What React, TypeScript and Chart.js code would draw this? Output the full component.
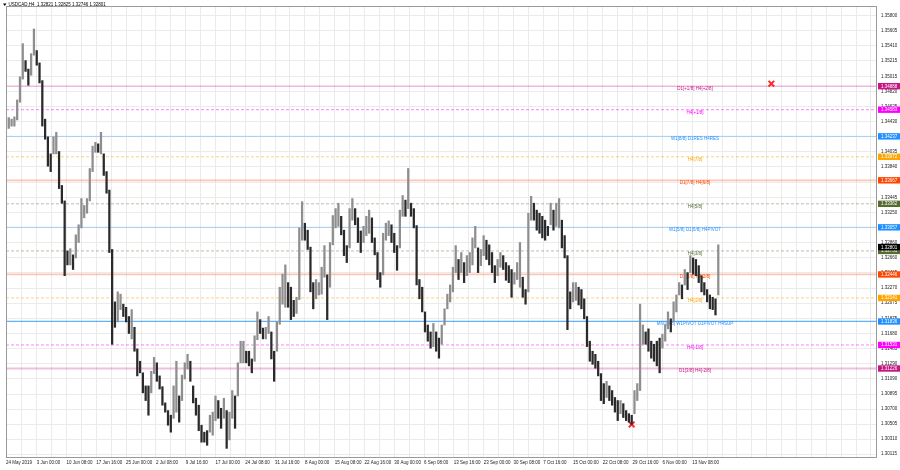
import React, { useEffect, useRef } from 'react';
import { Chart, registerables } from 'chart.js';

Chart.register(...registerables);

// ---- header ----
const titleText = 'USDCAD,H4  1.32821 1.32825 1.32746 1.32801';

// ---- price bars (every 3rd H4 bar), high / low ----
const barHighs = [
  1.3449, 1.3448, 1.3446, 1.3449, 1.3471, 1.3501, 1.3544, 1.3522, 1.3511, 1.3531,
  1.3563, 1.3535, 1.3519, 1.3496, 1.3446, 1.3423, 1.3401, 1.3423, 1.3429, 1.3404,
  1.3360, 1.3340, 1.3275, 1.3278, 1.3270, 1.3296, 1.3309, 1.3343, 1.3334, 1.3343,
  1.3382, 1.3411, 1.3416, 1.3414, 1.3429, 1.3401, 1.3378, 1.3354, 1.3277, 1.3209,
  1.3222, 1.3219, 1.3206, 1.3202, 1.3190, 1.3199, 1.3176, 1.3148, 1.3132, 1.3117,
  1.3100, 1.3100, 1.3119, 1.3137, 1.3130, 1.3113, 1.3099, 1.3078, 1.3068, 1.3062,
  1.3100, 1.3132, 1.3087, 1.3114, 1.3130, 1.3141, 1.3132, 1.3100, 1.3084, 1.3075,
  1.3049, 1.3040, 1.3042, 1.3062, 1.3066, 1.3087, 1.3081, 1.3071, 1.3084, 1.3068,
  1.3066, 1.3094, 1.3087, 1.3130, 1.3158, 1.3158, 1.3145, 1.3145, 1.3135, 1.3165,
  1.3196, 1.3186, 1.3175, 1.3176, 1.3190, 1.3170, 1.3145, 1.3183, 1.3228, 1.3245,
  1.3257, 1.3234, 1.3228, 1.3211, 1.3215, 1.3305, 1.3339, 1.3311, 1.3302, 1.3280,
  1.3234, 1.3238, 1.3234, 1.3254, 1.3282, 1.3244, 1.3286, 1.3321, 1.3330, 1.3337,
  1.3320, 1.3302, 1.3282, 1.3330, 1.3343, 1.3330, 1.3318, 1.3301, 1.3307, 1.3320,
  1.3328, 1.3318, 1.3292, 1.3273, 1.3247, 1.3298, 1.3311, 1.3314, 1.3309, 1.3298,
  1.3282, 1.3328, 1.3347, 1.3341, 1.3382, 1.3337, 1.3330, 1.3308, 1.3238, 1.3228,
  1.3196, 1.3179, 1.3170, 1.3181, 1.3170, 1.3162, 1.3179, 1.3200, 1.3219, 1.3231,
  1.3254, 1.3282, 1.3264, 1.3273, 1.3260, 1.3269, 1.3273, 1.3292, 1.3307, 1.3279,
  1.3277, 1.3295, 1.3289, 1.3283, 1.3273, 1.3256, 1.3264, 1.3273, 1.3269, 1.3260,
  1.3256, 1.3251, 1.3247, 1.3260, 1.3286, 1.3241, 1.3225, 1.3324, 1.3346, 1.3337,
  1.3328, 1.3324, 1.3320, 1.3315, 1.3307, 1.3337, 1.3328, 1.3337, 1.3343, 1.3315,
  1.3295, 1.3269, 1.3222, 1.3234, 1.3234, 1.3228, 1.3225, 1.3213, 1.3190, 1.3158,
  1.3145, 1.3141, 1.3132, 1.3116, 1.3103, 1.3106, 1.3100, 1.3094, 1.3085, 1.3081,
  1.3081, 1.3077, 1.3068, 1.3064, 1.3062, 1.3094, 1.3103, 1.3206, 1.3179, 1.3170,
  1.3174, 1.3158, 1.3154, 1.3158, 1.3162, 1.3167, 1.3179, 1.3196, 1.3187, 1.3209,
  1.3218, 1.3234, 1.3231, 1.3251, 1.3247, 1.3269, 1.3266, 1.3264, 1.3256, 1.3243,
  1.3234, 1.3225, 1.3218, 1.3215, 1.3213, 1.3283,
];
const barLows = [
  1.3433, 1.3434, 1.3437, 1.3437, 1.3445, 1.3468, 1.3498, 1.3508, 1.3490, 1.3503,
  1.3529, 1.3516, 1.3493, 1.3437, 1.3420, 1.3385, 1.3378, 1.3401, 1.3401, 1.3356,
  1.3337, 1.3243, 1.3257, 1.3257, 1.3251, 1.3266, 1.3286, 1.3305, 1.3318, 1.3324,
  1.3340, 1.3378, 1.3403, 1.3403, 1.3401, 1.3373, 1.3350, 1.3273, 1.3154, 1.3176,
  1.3183, 1.3199, 1.3190, 1.3183, 1.3168, 1.3161, 1.3145, 1.3113, 1.3117, 1.3091,
  1.3081, 1.3062, 1.3091, 1.3116, 1.3106, 1.3096, 1.3075, 1.3066, 1.3049, 1.3040,
  1.3058, 1.3066, 1.3053, 1.3081, 1.3109, 1.3122, 1.3106, 1.3078, 1.3062, 1.3042,
  1.3027, 1.3027, 1.3023, 1.3040, 1.3036, 1.3055, 1.3058, 1.3045, 1.3058, 1.3019,
  1.3030, 1.3058, 1.3045, 1.3087, 1.3130, 1.3130, 1.3130, 1.3126, 1.3117, 1.3132,
  1.3160, 1.3168, 1.3161, 1.3161, 1.3168, 1.3135, 1.3106, 1.3145, 1.3180, 1.3206,
  1.3202, 1.3202, 1.3186, 1.3190, 1.3194, 1.3212, 1.3289, 1.3289, 1.3277, 1.3222,
  1.3200, 1.3213, 1.3218, 1.3219, 1.3241, 1.3186, 1.3228, 1.3283, 1.3305, 1.3307,
  1.3296, 1.3269, 1.3260, 1.3279, 1.3315, 1.3309, 1.3286, 1.3273, 1.3286, 1.3295,
  1.3298, 1.3286, 1.3270, 1.3238, 1.3228, 1.3244, 1.3289, 1.3295, 1.3286, 1.3273,
  1.3250, 1.3279, 1.3320, 1.3320, 1.3330, 1.3320, 1.3305, 1.3231, 1.3213, 1.3196,
  1.3170, 1.3158, 1.3149, 1.3151, 1.3145, 1.3136, 1.3154, 1.3179, 1.3200, 1.3209,
  1.3222, 1.3247, 1.3238, 1.3247, 1.3234, 1.3243, 1.3247, 1.3257, 1.3279, 1.3247,
  1.3256, 1.3269, 1.3264, 1.3257, 1.3247, 1.3234, 1.3243, 1.3254, 1.3251, 1.3237,
  1.3234, 1.3215, 1.3232, 1.3238, 1.3228, 1.3215, 1.3206, 1.3222, 1.3315, 1.3315,
  1.3302, 1.3298, 1.3292, 1.3289, 1.3295, 1.3309, 1.3302, 1.3307, 1.3305, 1.3279,
  1.3266, 1.3173, 1.3200, 1.3209, 1.3211, 1.3205, 1.3200, 1.3187, 1.3151, 1.3132,
  1.3128, 1.3123, 1.3113, 1.3081, 1.3077, 1.3085, 1.3081, 1.3075, 1.3066, 1.3055,
  1.3064, 1.3059, 1.3055, 1.3053, 1.3050, 1.3064, 1.3081, 1.3094, 1.3154, 1.3154,
  1.3145, 1.3136, 1.3132, 1.3126, 1.3117, 1.3149, 1.3158, 1.3174, 1.3170, 1.3183,
  1.3196, 1.3218, 1.3213, 1.3231, 1.3225, 1.3247, 1.3245, 1.3243, 1.3234, 1.3222,
  1.3218, 1.3209, 1.3200, 1.3199, 1.3192, 1.3218,
];
const BAR_FIRST_INDEX = 3;
const BAR_STEP = 3;

// ---- time axis (H4 bar index of each date label) ----
const dateLabels = [
  '24 May 2019', '3 Jun 00:00', '10 Jun 08:00', '17 Jun 16:00', '25 Jun 00:00', '2 Jul 08:00',
  '9 Jul 16:00', '17 Jul 00:00', '24 Jul 08:00', '31 Jul 16:00', '8 Aug 00:00', '15 Aug 08:00',
  '22 Aug 16:00', '30 Aug 00:00', '6 Sep 08:00', '13 Sep 16:00', '23 Sep 00:00', '30 Sep 08:00',
  '7 Oct 16:00', '15 Oct 00:00', '22 Oct 08:00', '29 Oct 16:00', '6 Nov 00:00', '13 Nov 08:00',
];
const dateIndex = [
  3, 36, 68, 100, 132, 164, 196, 228, 260, 292, 324, 356,
  388, 420, 452, 484, 516, 548, 580, 612, 644, 676, 708, 740,
];

// ---- price axis ----
const priceTicks = [
  1.358, 1.35605, 1.3541, 1.35215, 1.35015, 1.3482, 1.34625, 1.3443, 1.34235, 1.34035,
  1.3384, 1.33645, 1.33445, 1.3325, 1.33055, 1.3286, 1.3266, 1.32465, 1.3227, 1.32075,
  1.31875, 1.3168, 1.31485, 1.3129, 1.3109, 1.30895, 1.307, 1.30505, 1.3031, 1.30115,
];
const currentPrice = 1.32801;

// ---- Murrey levels ----
const levelPrices = [
  1.34888, 1.34583, 1.34237, 1.33972, 1.33667, 1.33362, 1.33057,
  1.32751, 1.32446, 1.32141, 1.31836, 1.31531, 1.31226,
];
const levelNames = [
  'D1[+1/8] H4[+2/8]', 'H4[+1/8]', 'W1[8/8] D1RES H4RES', 'H4[7/8]', 'D1[7/8] H4[6/8]',
  'H4[5/8]', 'W1[5/8] D1[6/8] H4PIVOT', 'H4[3/8]', 'D1[5/8] H4[2/8]', 'H4[1/8]',
  'MN1[4/8] W1PIVOT D1PIVOT H4SUP', 'H4[-1/8]', 'D1[3/8] H4[-2/8]',
];

// ---- signal markers ----
const signalIndex = [675, 825];
const signalPrice = [1.305, 1.3492];

// ---- styles ----
const levelStyle = [
  { color: '#C71585', line: 'rgba(199,21,133,0.3)', width: 1.5, dash: [] },
  { color: '#FF00FF', line: 'rgba(255,0,255,0.5)', width: 1, dash: [3, 2] },
  { color: '#1E90FF', line: 'rgba(30,144,255,0.35)', width: 1, dash: [] },
  { color: '#FFA500', line: 'rgba(255,165,0,0.5)', width: 1, dash: [3, 2] },
  { color: '#FF4500', line: 'rgba(255,69,0,0.3)', width: 1.8, dash: [] },
  { color: '#556B2F', line: 'rgba(85,107,47,0.42)', width: 1, dash: [3, 2] },
  { color: '#1E90FF', line: 'rgba(30,144,255,0.35)', width: 1, dash: [] },
  { color: '#556B2F', line: 'rgba(85,107,47,0.42)', width: 1, dash: [3, 2] },
  { color: '#FF4500', line: 'rgba(255,69,0,0.3)', width: 1.8, dash: [] },
  { color: '#FFA500', line: 'rgba(255,165,0,0.5)', width: 1, dash: [3, 2] },
  { color: '#1E90FF', line: 'rgba(30,144,255,0.7)', width: 1.2, dash: [] },
  { color: '#FF00FF', line: 'rgba(255,0,255,0.5)', width: 1, dash: [3, 2] },
  { color: '#C71585', line: 'rgba(199,21,133,0.28)', width: 2, dash: [] },
];
const FONT = '"Liberation Sans", Arial, sans-serif';
const FONT_SIZE = 4.5;
const X_MIN = 3;
const X_MAX = 3 + 877 / 0.9375;
const Y_MAX = 1.35928;
const Y_MIN = 1.30078;
const LABEL_INDEX = 743;

const overlayPlugin = {
  id: 'mt4Overlay',
  beforeDatasetsDraw(chart: any) {
    const { ctx, chartArea: a, scales } = chart;
    const x = scales.x;
    const y = scales.y;
    ctx.save();
    ctx.beginPath();
    ctx.rect(a.left, a.top, a.right - a.left, a.bottom - a.top);
    ctx.clip();
    levelPrices.forEach((p, i) => {
      const st = levelStyle[i];
      const py = y.getPixelForValue(p);
      ctx.strokeStyle = st.line;
      ctx.lineWidth = st.width;
      ctx.setLineDash(st.dash);
      ctx.beginPath();
      ctx.moveTo(a.left, py);
      ctx.lineTo(a.right, py);
      ctx.stroke();
    });
    ctx.setLineDash([]);
    ctx.font = `${FONT_SIZE}px ${FONT}`;
    ctx.textAlign = 'center';
    ctx.textBaseline = 'middle';
    const lx = x.getPixelForValue(LABEL_INDEX);
    levelPrices.forEach((p, i) => {
      ctx.fillStyle = levelStyle[i].color;
      ctx.fillText(levelNames[i], lx, y.getPixelForValue(p) + 2.7);
    });
    ctx.restore();
  },
  afterDraw(chart: any) {
    const { ctx, chartArea: a, scales } = chart;
    const y = scales.y;
    ctx.save();
    ctx.strokeStyle = '#9a9a9a';
    ctx.lineWidth = 1;
    ctx.strokeRect(a.left + 0.5, a.top + 0.5, a.right - a.left - 1, a.bottom - a.top);
    ctx.font = `${FONT_SIZE}px ${FONT}`;
    ctx.textAlign = 'left';
    ctx.textBaseline = 'middle';
    const tag = (p: number, color: string) => {
      const py = y.getPixelForValue(p);
      ctx.fillStyle = color;
      ctx.fillRect(a.right + 1, py - 3.2, 900 - a.right - 1, 6.4);
      ctx.fillStyle = '#ffffff';
      ctx.fillText(p.toFixed(5), a.right + 4, py + 0.2);
    };
    levelPrices.forEach((p, i) => tag(p, levelStyle[i].color));
    tag(currentPrice, '#000000');
    ctx.fillStyle = '#000';
    ctx.beginPath();
    ctx.moveTo(3, 3.5);
    ctx.lineTo(6.5, 3.5);
    ctx.lineTo(4.75, 6);
    ctx.closePath();
    ctx.fill();
    ctx.fillText(titleText, 8.5, 5);
    ctx.restore();
  },
};

export default function App() {
  const canvasRef = useRef<HTMLCanvasElement | null>(null);

  useEffect(() => {
    document.body.style.margin = '0';
    const canvas = canvasRef.current;
    if (!canvas) return;

    const barData = barHighs.map((h, i) => ({ x: BAR_FIRST_INDEX + i * BAR_STEP, y: [barLows[i], h] }));
    const barColors = barHighs.map((h, i) => {
      const mid = (h + barLows[i]) / 2;
      const prev = i > 0 ? (barHighs[i - 1] + barLows[i - 1]) / 2 : mid;
      return mid >= prev ? '#8e8e8e' : '#2a2a2a';
    });
    const gridTicks: number[] = [dateIndex[0]];
    for (let v = 20; v <= X_MAX; v += 16) gridTicks.push(v);
    const labelFor = new Map<number, string>();
    dateIndex.forEach((v, i) => labelFor.set(v, dateLabels[i]));

    const chart = new Chart(canvas, {
      type: 'bar',
      data: {
        datasets: [
          {
            type: 'bar',
            data: barData as any,
            backgroundColor: barColors,
            borderWidth: 0,
            barThickness: 1.6,
            grouped: false,
          } as any,
          {
            type: 'scatter',
            data: signalIndex.map((v, i) => ({ x: v, y: signalPrice[i] })),
            pointStyle: 'crossRot',
            pointRadius: 4,
            borderColor: '#FF2A2A',
            backgroundColor: '#FF2A2A',
            borderWidth: 2,
            showLine: false,
          } as any,
        ],
      },
      options: {
        animation: false,
        responsive: false,
        devicePixelRatio: 1,
        layout: { padding: 0 },
        plugins: {
          legend: { display: false },
          tooltip: { enabled: false },
          title: { display: false },
        },
        scales: {
          x: {
            type: 'linear',
            min: X_MIN,
            max: X_MAX,
            offset: false,
            border: { display: false },
            grid: { color: '#ebebeb', drawTicks: false, offset: false, lineWidth: 1 },
            ticks: {
              autoSkip: false,
              maxRotation: 0,
              minRotation: 0,
              align: 'start',
              padding: 3,
              color: '#222',
              font: { family: FONT, size: FONT_SIZE },
              callback: (v: any) => labelFor.get(Number(v)) ?? '',
            },
            afterBuildTicks: (scale: any) => {
              scale.ticks = gridTicks.map((v) => ({ value: v }));
            },
            afterFit: (scale: any) => {
              scale.height = 13;
              scale.paddingLeft = 0;
              scale.paddingRight = 0;
            },
          },
          y: {
            type: 'linear',
            position: 'right',
            min: Y_MIN,
            max: Y_MAX,
            border: { display: false },
            grid: { color: '#ebebeb', drawTicks: false, lineWidth: 1 },
            ticks: {
              autoSkip: false,
              padding: 4,
              color: '#222',
              font: { family: FONT, size: FONT_SIZE },
              callback: (v: any) => Number(v).toFixed(5),
            },
            afterBuildTicks: (scale: any) => {
              scale.ticks = priceTicks.map((v) => ({ value: v }));
            },
            afterFit: (scale: any) => {
              scale.width = 23;
              scale.paddingTop = 0;
              scale.paddingBottom = 0;
            },
          },
        },
      } as any,
      plugins: [overlayPlugin],
    });

    return () => chart.destroy();
  }, []);

  return (
    <div style={{ position: 'fixed', left: 0, top: 0, width: 900, height: 470, background: '#fff' }}>
      <canvas ref={canvasRef} width={900} height={470} style={{ display: 'block' }} />
    </div>
  );
}
